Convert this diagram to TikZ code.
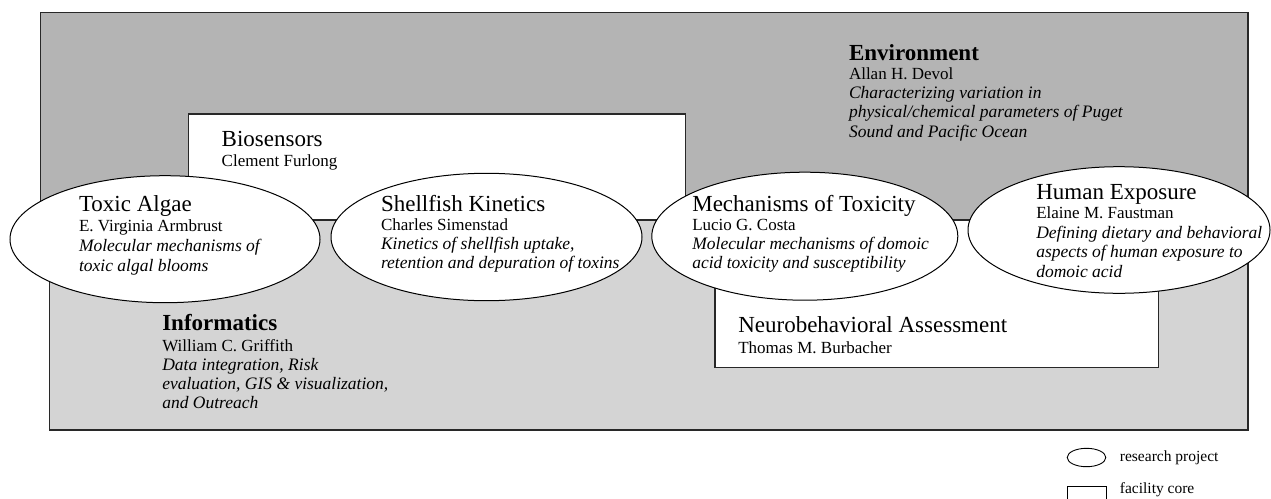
\documentclass[tikz,border=0pt]{standalone}
\usepackage{fontspec}
\setmainfont{Liberation Serif}
\usetikzlibrary{shapes.geometric}
\definecolor{envgray}{RGB}{180,180,180}
\definecolor{infgray}{RGB}{212,212,212}
\definecolor{edge}{RGB}{40,40,40}
\newcommand\tl[1]{\hbox{\fontsize{23}{23}\selectfont #1}}
\newcommand\tlb[1]{\hbox{\fontsize{23}{23}\selectfont\bfseries #1}}
\newcommand\nm[1]{\hbox{\fontsize{17}{19}\selectfont #1}}
\newcommand\ds[1]{\hbox{\fontsize{17.5}{19}\selectfont\itshape #1}}
\newcommand\blk[2]{\vtop{\baselineskip=#1\lineskiplimit=-100pt\lineskip=0pt #2}}
\tikzset{
  corebox/.style={draw=edge, line width=1.4pt},
  proj/.style={ellipse, draw=black, fill=white, line width=1pt, inner sep=0pt, outer sep=0pt},
  txt/.style={anchor=base west, inner sep=0pt, outer sep=0pt},
  legtxt/.style={anchor=base west, inner sep=0pt, font=\fontsize{15.5}{17}\selectfont},
}
\begin{document}
\begin{tikzpicture}[x=1pt,y=-1pt]
\useasboundingbox (0,0) rectangle (1271,498);
\clip (0,0) rectangle (1271,498);
% Environment (dark) and Informatics (light) areas
\draw[corebox, fill=envgray] (40.7,12.3) rectangle (1248,220);
\draw[corebox, fill=infgray] (49.3,220) rectangle (1248,430);
% facility cores
\draw[corebox, fill=white] (188.7,114) rectangle (685.7,220);
\draw[corebox, fill=white] (715,220) rectangle (1158.7,367.3);
% research projects
\node[proj, minimum width=310pt, minimum height=127pt] (algae) at (165,239.2) {};
\node[proj, minimum width=311pt, minimum height=127.4pt] (shell) at (486.5,237) {};
\node[proj, minimum width=306pt, minimum height=128pt] (mech) at (804.8,236.2) {};
\node[proj, minimum width=302pt, minimum height=126.6pt] (human) at (1119,230) {};
% texts
\node[txt] (tEnv) at (849,60) {\blk{19.3pt}{\tlb{Environment}\nm{Allan H. Devol}\ds{Characterizing variation in}\ds{physical/chemical parameters of Puget}\ds{Sound and Pacific Ocean}}};
\node[txt] (tBio) at (221.7,146) {\blk{20.7pt}{\tl{Biosensors}\nm{Clement Furlong}}};
\node[txt] (tAlgae) at (79,211.7) {\blk{20pt}{\tl{Toxic Algae}\nm{E. Virginia Armbrust}\ds{Molecular mechanisms of}\ds{toxic algal blooms}}};
\node[txt] (tShell) at (381,211.7) {\blk{19pt}{\tl{Shellfish Kinetics}\nm{Charles Simenstad}\ds{Kinetics of shellfish uptake,}\ds{retention and depuration of toxins}}};
\node[txt] (tMech) at (692.3,211.7) {\blk{19pt}{\tl{Mechanisms of Toxicity}\nm{Lucio G. Costa}\ds{Molecular mechanisms of domoic}\ds{acid toxicity and susceptibility}}};
\node[txt] (tHuman) at (1036.3,199.3) {\blk{19.5pt}{\tl{Human Exposure}\nm{Elaine M. Faustman}\ds{Defining dietary and behavioral}\ds{aspects of human exposure to}\ds{domoic acid}}};
\node[txt] (tInf) at (162.3,330) {\blk{19pt}{\tlb{Informatics}\vskip2.5pt\nm{William C. Griffith}\ds{Data integration, Risk}\ds{evaluation, GIS \& visualization,}\ds{and Outreach}}};
\node[txt] (tNeuro) at (738.3,332.7) {\blk{20.6pt}{\tl{Neurobehavioral Assessment}\nm{Thomas M. Burbacher}}};
% legend
\node[ellipse, draw=black, line width=0.9pt, inner sep=0pt, minimum width=38.6pt, minimum height=18.4pt] (legE) at (1086.5,457.5) {};
\node[draw=black, line width=0.9pt, inner sep=0pt, anchor=north west, minimum width=38.7pt, minimum height=24pt] (legR) at (1067,486) {};
\node[legtxt] (legEt) at (1119.7,461.7) {research project};
\node[legtxt] (legRt) at (1119.7,493.8) {facility core};
\end{tikzpicture}
\end{document}
